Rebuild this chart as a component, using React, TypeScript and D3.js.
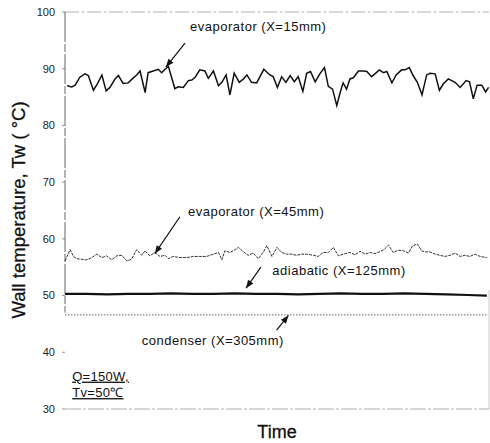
import React from "react";
import * as d3 from "d3";

// wall temperature vs time, time is unitless (0..100 across the frame)
const yTicks = [30, 40, 50, 60, 70, 80, 90, 100];

const evap15: [number, number][] = [
  [0.5, 87.0], [1.6, 86.8], [2.4, 87.1], [3.5, 88.5], [4.7, 89.1], [5.5, 88.8],
  [6.7, 86.2], [7.6, 87.3], [8.7, 88.9], [9.7, 86.1], [10.6, 86.7], [11.8, 88.2],
  [12.6, 88.8], [13.7, 87.4], [14.9, 87.5], [16.0, 88.3], [16.9, 88.9], [17.7, 89.6],
  [18.9, 85.8], [19.6, 89.3], [20.8, 89.6], [22.0, 89.9], [22.8, 89.3], [23.6, 89.9],
  [24.4, 90.4], [25.9, 86.5], [26.7, 86.8], [27.9, 86.7], [29.1, 87.9], [29.9, 88.0],
  [30.7, 88.5], [31.8, 89.8], [33.0, 89.6], [33.8, 88.3], [35.0, 89.6], [36.2, 87.0],
  [37.0, 87.6], [38.0, 88.9], [38.9, 85.4], [39.9, 89.2], [41.1, 87.6], [42.1, 88.2],
  [42.9, 88.9], [44.0, 87.6], [45.2, 87.5], [46.9, 89.9], [48.3, 88.9], [49.1, 88.6],
  [50.1, 86.7], [51.1, 88.6], [52.1, 87.6], [53.1, 88.8], [54.1, 87.7], [55.0, 88.6],
  [56.1, 86.0], [57.0, 89.2], [57.9, 89.5], [59.0, 87.7], [60.1, 89.1], [61.2, 90.2],
  [62.1, 86.9], [63.1, 86.4], [64.1, 83.5], [64.9, 85.8], [65.6, 87.5], [66.4, 86.4],
  [67.2, 88.2], [68.0, 88.4], [69.2, 89.6], [70.4, 89.6], [71.2, 89.5], [72.3, 88.6],
  [73.1, 89.1], [74.1, 89.8], [75.1, 89.3], [75.9, 89.5], [77.1, 87.5], [78.1, 88.9],
  [79.4, 89.8], [80.2, 89.8], [81.2, 90.2], [82.1, 88.8], [83.1, 87.6], [84.2, 85.4],
  [85.3, 88.9], [86.1, 89.2], [87.3, 89.1], [88.3, 86.2], [89.2, 87.3], [90.4, 88.2],
  [92.0, 87.6], [93.2, 86.7], [94.6, 87.9], [95.4, 87.7], [96.3, 84.7], [97.2, 87.1],
  [98.3, 87.1], [99.2, 85.9], [99.9, 86.7],
];

const evap45: [number, number][] = [
  [0.0, 56.1], [1.2, 58.1], [2.0, 56.9], [2.8, 56.5], [3.9, 56.4], [5.1, 56.3],
  [6.3, 56.7], [7.5, 57.3], [8.7, 56.7], [9.8, 57.0], [11.0, 56.3], [12.2, 57.0],
  [13.4, 57.1], [14.6, 56.1], [15.7, 56.4], [16.9, 58.1], [18.1, 57.1], [18.9, 57.9],
  [20.0, 57.0], [21.2, 57.6], [22.4, 56.9], [23.6, 57.1], [24.4, 56.5], [25.5, 56.9],
  [27.1, 56.7], [28.7, 56.7], [30.3, 56.9], [31.8, 56.9], [33.4, 56.9], [35.0, 57.3],
  [36.2, 57.6], [37.0, 56.3], [37.7, 57.9], [38.9, 57.6], [39.7, 57.9], [40.9, 58.5],
  [42.1, 57.7], [43.2, 57.1], [44.4, 57.5], [45.6, 56.5], [46.8, 57.7], [47.6, 58.8],
  [48.8, 56.9], [50.0, 58.5], [51.1, 57.6], [52.3, 57.3], [53.5, 57.3], [54.6, 57.1],
  [55.8, 57.3], [57.0, 57.3], [58.6, 57.1], [59.7, 56.9], [60.9, 57.6], [62.1, 57.6],
  [63.3, 58.5], [64.5, 57.0], [65.6, 57.3], [67.2, 57.6], [68.4, 57.2], [69.6, 57.8],
  [70.8, 57.3], [71.9, 57.6], [73.1, 57.4], [74.1, 57.7], [75.2, 58.1], [76.3, 58.9],
  [77.4, 57.6], [78.6, 58.0], [79.8, 57.9], [81.0, 57.5], [82.0, 58.8], [83.1, 59.1],
  [84.1, 57.9], [84.9, 57.7], [86.1, 57.7], [87.3, 57.3], [88.4, 57.1], [89.6, 56.9],
  [90.8, 57.1], [92.0, 57.5], [93.2, 56.9], [94.3, 57.1], [95.5, 56.9], [96.7, 57.3],
  [97.9, 56.9], [99.5, 56.7],
];

const adiabatic: [number, number][] = [
  [0, 50.3], [5, 50.3], [10, 50.2], [15, 50.3], [20, 50.3], [25, 50.4],
  [30, 50.3], [35, 50.3], [40, 50.4], [45, 50.3], [50, 50.3], [55, 50.2],
  [60, 50.3], [65, 50.4], [70, 50.3], [75, 50.3], [80, 50.4], [85, 50.3],
  [90, 50.2], [95, 50.1], [99.5, 50.0],
];

const condenser: [number, number][] = [
  [0, 46.6], [10, 46.6], [20, 46.6], [30, 46.6], [40, 46.6], [50, 46.6],
  [60, 46.6], [70, 46.6], [80, 46.6], [90, 46.6], [99.5, 46.6],
];

// label text, label anchor and arrow (from -> to), all in data units
const notes = [
  { text: "evaporator (X=15mm)", at: [29.5, 97.4], from: [28.3, 94.5], to: [23.8, 90.3] },
  { text: "evaporator (X=45mm)", at: [29.0, 64.9], from: [27.1, 63.9], to: [21.2, 57.4] },
  { text: "adiabatic (X=125mm)", at: [48.9, 54.4], from: [46.2, 55.0], to: [42.7, 51.3] },
  { text: "condenser (X=305mm)", at: [18.1, 42.0], from: [49.9, 43.9], to: [52.7, 46.5] },
];

const conditions = ["Q=150W,", "Tv=50℃"];

const W = 490;
const H = 443;
const left = 65;
const right = 489;
const top = 12;
const bottom = 409;

export default function App() {
  const x = d3.scaleLinear().domain([0, 100]).range([left, right]);
  const y = d3.scaleLinear().domain([30, 100]).range([bottom, top]);

  const line = d3
    .line<[number, number]>()
    .x((d) => x(d[0]))
    .y((d) => y(d[1]));

  const font = "Arial, 'Liberation Sans', sans-serif";

  const arrowHead = (fx: number, fy: number, tx: number, ty: number) => {
    const a = Math.atan2(ty - fy, tx - fx);
    const len = 8;
    const w = 3.2;
    const bx = tx - len * Math.cos(a);
    const by = ty - len * Math.sin(a);
    const p1 = [bx + w * Math.sin(a), by - w * Math.cos(a)];
    const p2 = [bx - w * Math.sin(a), by + w * Math.cos(a)];
    return `M${tx},${ty}L${p1[0]},${p1[1]}L${p2[0]},${p2[1]}Z`;
  };

  return (
    <svg
      width={W}
      height={H}
      style={{ position: "absolute", left: 0, top: 0, background: "#fff" }}
      fontFamily={font}
    >
      {/* frame */}
      <line x1={left} x2={right} y1={top} y2={top} stroke="#999" strokeWidth={0.8} strokeDasharray="14,3,2,3" />
      <line x1={left} x2={right} y1={bottom} y2={bottom} stroke="#999" strokeWidth={0.8} strokeDasharray="16,2,3,2" />
      <line x1={right} x2={right} y1={y(51)} y2={bottom} stroke="#bbb" strokeWidth={0.8} />
      <line x1={left} x2={left} y1={top} y2={y(47)} stroke="#555" strokeWidth={0.9} strokeDasharray="30,2,8,2" />

      {/* y ticks */}
      {yTicks.map((t) => (
        <g key={t}>
          <line x1={left - 3} x2={left} y1={y(t)} y2={y(t)} stroke="#777" strokeWidth={0.8} />
          <text x={55} y={y(t)} dy="0.35em" textAnchor="end" fontSize={11} fill="#222">
            {t}
          </text>
        </g>
      ))}

      {/* series */}
      <path d={line(condenser) ?? ""} fill="none" stroke="#666" strokeWidth={1} strokeDasharray="1.5,1.5" />
      <path d={line(adiabatic) ?? ""} fill="none" stroke="#111" strokeWidth={2.2} />
      <path d={line(evap45) ?? ""} fill="none" stroke="#333" strokeWidth={1} strokeDasharray="3,1" />
      <path d={line(evap15) ?? ""} fill="none" stroke="#111" strokeWidth={1.5} />

      {/* annotations */}
      {notes.map((n) => {
        const fx = x(n.from[0]);
        const fy = y(n.from[1]);
        const tx = x(n.to[0]);
        const ty = y(n.to[1]);
        return (
          <g key={n.text}>
            <text x={x(n.at[0])} y={y(n.at[1])} dy="0.35em" fontSize={13} letterSpacing={0.5} fill="#111">
              {n.text}
            </text>
            <line x1={fx} y1={fy} x2={tx} y2={ty} stroke="#111" strokeWidth={1.2} />
            <path d={arrowHead(fx, fy, tx, ty)} fill="#111" />
          </g>
        );
      })}

      {/* operating conditions */}
      {conditions.map((c, i) => (
        <text
          key={c}
          x={x(1.7)}
          y={y(35.8 - i * 2.9)}
          dy="0.35em"
          fontSize={13}
          letterSpacing={0.3}
          textDecoration="underline"
          fill="#111"
        >
          {c}
        </text>
      ))}

      {/* axis titles */}
      <text
        x={277}
        y={432}
        dy="0.35em"
        textAnchor="middle"
        fontSize={18}
        fill="#111"
        stroke="#111"
        strokeWidth={0.3}
      >
        Time
      </text>
      <text
        transform={`translate(19,210) rotate(-90)`}
        dy="0.35em"
        textAnchor="middle"
        fontSize={18.5}
        fill="#111"
        stroke="#111"
        strokeWidth={0.3}
      >
        Wall temperature, Tw ( °C)
      </text>
    </svg>
  );
}
